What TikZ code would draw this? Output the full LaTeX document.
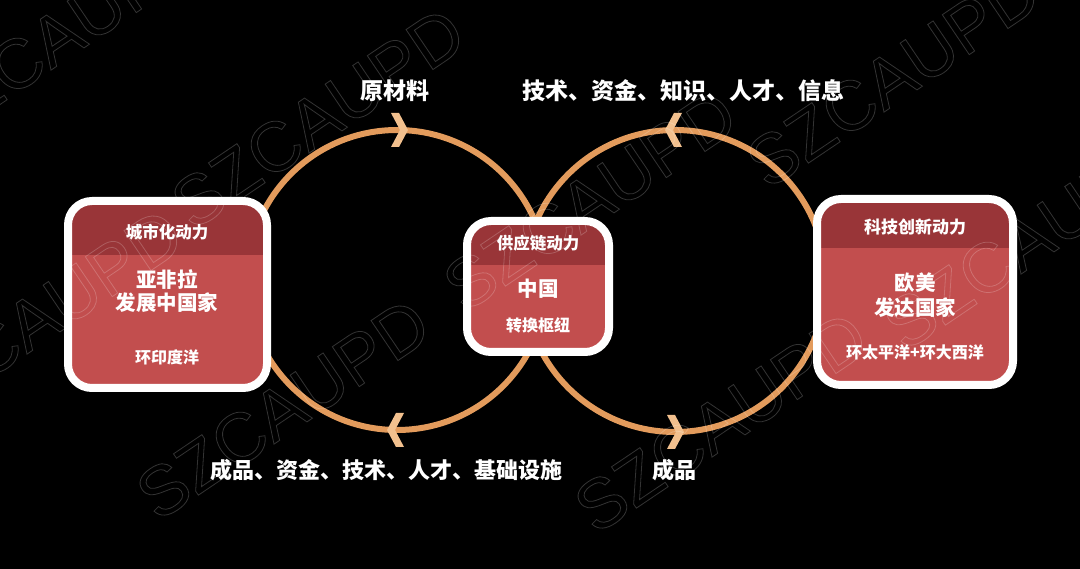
\documentclass[tikz,border=0pt]{standalone}
\usepackage{fontspec}
\setmainfont{Liberation Sans}
\newfontfamily\cjk{Noto Sans CJK SC}
\newfontfamily\wmfont{Liberation Sans}
\definecolor{ringc}{HTML}{E39B5C}
\definecolor{arrc}{HTML}{F2C08E}
\definecolor{bodyc}{HTML}{C24E4E}
\definecolor{hdrc}{HTML}{993538}
\tikzset{
  ring/.style={circle, draw=ringc, line width=6pt, inner sep=0pt, outer sep=0pt},
  chev/.style={fill=arrc},
  box/.style={draw=white, line width=8pt, rounded corners=24pt, fill=bodyc, inner sep=0pt, outer sep=0pt},
  hdr/.style={path picture={\fill[hdrc, sharp corners] (path picture bounding box.north west) rectangle ([yshift=-#1]path picture bounding box.north east);}},
  txt/.style={text=white, inner sep=0pt, align=center},
  lbl/.style={txt, font=\cjk\bfseries\fontsize{23pt}{27pt}\selectfont},
  lblb/.style={txt, font=\cjk\bfseries\fontsize{22pt}{26pt}\selectfont},
  head/.style={txt, font=\cjk\bfseries\fontsize{16.5pt}{19pt}\selectfont},
  main/.style={txt, font=\cjk\bfseries\fontsize{20.5pt}{24pt}\selectfont},
  sub/.style={txt, font=\cjk\bfseries\fontsize{16pt}{19pt}\selectfont},
  wm/.style={text=white, opacity=0.2, line width=0.8pt, rotate=34, inner sep=0pt,
     font=\wmfont\fontsize{70pt}{70pt}\selectfont}
}
\begin{document}
\begin{tikzpicture}[x=1pt,y=-1pt]
\fill[black] (0,0) rectangle (1080,569);
\useasboundingbox (0,0) rectangle (1080,569);

% rings
\node[ring, minimum size=300pt] (C1) at (397,280) {};
\node[ring, minimum size=302pt] (C2) at (675,281) {};

% chevrons
\fill[chev] ([xshift=11pt]C1.north) -- ++(-9,-17) -- ++(-8,0) -- ++(9,17) -- ++(-9,17) -- ++(8,0) -- cycle;
\fill[chev] ([xshift=-10pt]C1.south) -- ++(9,-17) -- ++(8,0) -- ++(-9,17) -- ++(9,17) -- ++(-8,0) -- cycle;
\fill[chev] ([xshift=-10pt]C2.north) -- ++(9,-17) -- ++(8,0) -- ++(-9,17) -- ++(9,17) -- ++(-8,0) -- cycle;
\fill[chev] ([xshift=9pt]C2.south) -- ++(-9,-17) -- ++(-8,0) -- ++(9,17) -- ++(-9,17) -- ++(8,0) -- cycle;

% boxes
\node[box, hdr=54pt, minimum width=199pt, minimum height=187pt] (L) at (167.5,294.5) {};
\node[box, hdr=44pt, minimum width=142pt, minimum height=131pt] (M) at (538,286.5) {};
\node[box, hdr=49pt, minimum width=196pt, minimum height=186pt] (R) at (915,292) {};

% box texts
\node[head] (Lh) at (167,232) {城市化动力};
\node[main, align=center] (Lm) at (167,291.5) {亚非拉\\[-1pt]发展中国家};
\node[sub] (Ls) at (167,357) {环印度洋};

\node[head] (Mh) at (538,243) {供应链动力};
\node[main] (Mm) at (538,289) {中国};
\node[sub] (Ms) at (538,325) {转换枢纽};

\node[head, font=\cjk\bfseries\fontsize{17pt}{20pt}\selectfont] (Rh) at (915,227) {科技创新动力};
\node[main] (Rm) at (915,295.5) {欧美\\[1pt]发达国家};
\node[sub] (Rs) at (915,352) {环太平洋+环大西洋};

% flow labels
\node[lbl] (t1) at (395,91) {原材料};
\node[lbl] (t2) at (683,91) {技术、资金、知识、人才、信息};
\node[lblb] (b1) at (386,470) {成品、资金、技术、人才、基础设施};
\node[lblb] (b2) at (674,470) {成品};

% watermark
\node[wm] (w1) at (318,118) {\special{pdf:literal direct 1 Tr}SZCAUPD};
\node[wm] (w2) at (36,319) {\special{pdf:literal direct 1 Tr}SZCAUPD};
\node[wm] (w3) at (60,35) {\special{pdf:literal direct 1 Tr}SZCAUPD};
\node[wm] (w4) at (283,409) {\special{pdf:literal direct 1 Tr}SZCAUPD};
\node[wm] (w5) at (590,200) {\special{pdf:literal direct 1 Tr}SZCAUPD};
\node[wm] (w6) at (721,422) {\special{pdf:literal direct 1 Tr}SZCAUPD};
\node[wm] (w7) at (1030,239) {\special{pdf:literal direct 1 Tr}SZCAUPD};
\node[wm] (w8) at (893,77) {\special{pdf:literal direct 1 Tr}SZCAUPD};
\end{tikzpicture}
\end{document}
